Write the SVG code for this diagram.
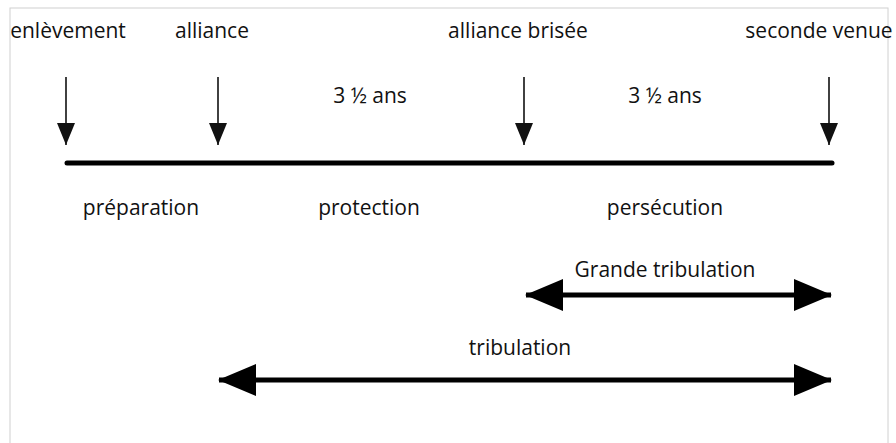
<svg xmlns="http://www.w3.org/2000/svg" width="896" height="443" viewBox="0 0 896 443">
<defs>
<style>
text{font-family:"Open Sans","Noto Sans","Liberation Sans",sans-serif;font-size:21px;fill:#111;text-anchor:middle}
.down{stroke:#111;stroke-width:1.6;fill:none}
.bar{stroke:#000;stroke-width:5;fill:none}
.thick{stroke:#000;stroke-width:5;fill:none}
</style>
<marker id="head" markerUnits="userSpaceOnUse" viewBox="0 0 22 18" refX="22" refY="9" markerWidth="22" markerHeight="18" orient="auto">
<path d="M0,0 L22,9 L0,18 Z" fill="#111"/>
</marker>
<marker id="big" markerUnits="userSpaceOnUse" viewBox="0 0 38 32" refX="37" refY="16" markerWidth="38" markerHeight="32" orient="auto-start-reverse">
<path d="M0,0 L38,16 L0,32 Z" fill="#000"/>
</marker>
</defs>
<rect x="10" y="8" width="878" height="445" fill="none" stroke="#d0d0d0" stroke-width="1"/>
<g id="connectors">
<line class="down" x1="66" y1="77" x2="66" y2="145" marker-end="url(#head)"/>
<line class="down" x1="218" y1="77" x2="218" y2="145" marker-end="url(#head)"/>
<line class="down" x1="524" y1="77" x2="524" y2="145" marker-end="url(#head)"/>
<line class="down" x1="829" y1="77" x2="829" y2="145" marker-end="url(#head)"/>
<line class="bar" x1="67" y1="163" x2="832" y2="163" stroke-linecap="round"/>
<line class="thick" x1="526" y1="295" x2="831" y2="295" marker-start="url(#big)" marker-end="url(#big)"/>
<line class="thick" x1="219" y1="380" x2="831" y2="380" marker-start="url(#big)" marker-end="url(#big)"/>
</g>
<g id="enlevement"><text x="68" y="38">enlèvement</text></g>
<g id="alliance"><text x="212" y="38">alliance</text></g>
<g id="alliance-brisee"><text x="518" y="38">alliance brisée</text></g>
<g id="seconde-venue"><text x="819" y="38">seconde venue</text></g>
<g id="duree1"><text x="370" y="103">3 ½ ans</text></g>
<g id="duree2"><text x="665" y="103">3 ½ ans</text></g>
<g id="preparation"><text x="141" y="215">préparation</text></g>
<g id="protection"><text x="369" y="215">protection</text></g>
<g id="persecution"><text x="665" y="215">persécution</text></g>
<g id="grande-tribulation"><text x="665" y="277">Grande tribulation</text></g>
<g id="tribulation"><text x="520" y="355">tribulation</text></g>
</svg>
